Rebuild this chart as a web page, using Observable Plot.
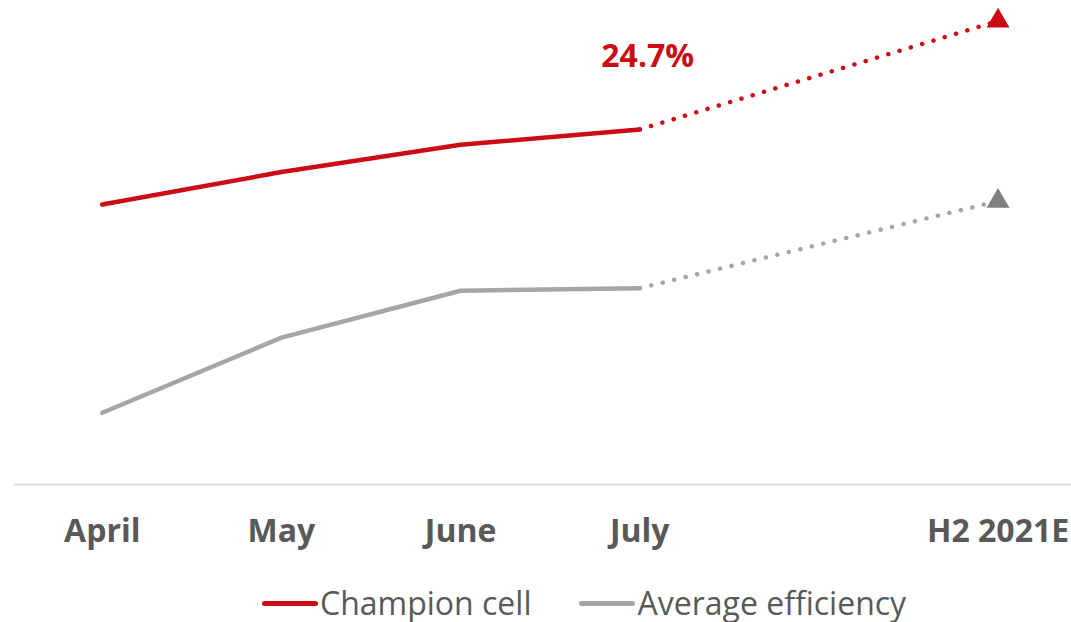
<!DOCTYPE html>
<html>
<head>
<meta charset="utf-8">
<script src="https://cdn.jsdelivr.net/npm/d3@7"></script>
<script src="https://cdn.jsdelivr.net/npm/@observablehq/plot@0.6"></script>
<style>
  html, body { margin: 0; padding: 0; background: #fff; }
  body { width: 1071px; height: 622px; overflow: hidden; font-family: "Open Sans", sans-serif; }
  #chart { position: absolute; left: 0; top: 0; }
  #legend { position: absolute; left: 262px; top: 580px; display: flex; align-items: center; font-size: 32px; line-height: 46px; color: #595959; white-space: nowrap; }
  .sw { display: inline-block; width: 56px; height: 5px; border-radius: 3px; margin-right: 2px; }
</style>
</head>
<body>
<div id="chart"></div>
<div id="legend">
  <span class="sw" style="background:#cc0c14"></span><span>Champion cell</span>
  <span class="sw" style="background:#a6a6a6; margin-left:48px"></span><span>Average efficiency</span>
</div>
<script>
const categories = ["April", "May", "June", "July", "", "H2 2021E"];
const positions = [0, 1, 2, 3, 5];
const labels = ["April", "May", "June", "July", "H2 2021E"];
const champion = [23.82, 24.20, 24.52, 24.70, 25.97];
const average = [21.38, 22.26, 22.81, 22.84, 23.86];
const highlightLabel = "24.7%";

const RED = "#cc0c14", GRAY = "#a6a6a6", GRAYMARK = "#808080";

const series = [
  {name: "Champion cell", values: champion, color: RED, mark: RED},
  {name: "Average efficiency", values: average, color: GRAY, mark: GRAYMARK}
];

const rows = [];
for (const s of series) {
  s.values.forEach((v, i) => rows.push({series: s.name, x: positions[i], label: labels[i], v, color: s.color, mark: s.mark, actual: i <= 3, forecast: i >= 3}));
}
const actualRows = rows.filter(d => d.actual);
const forecastRows = rows.filter(d => d.forecast);
const estRows = rows.filter(d => d.x === 5);
const julyChampion = rows.filter(d => d.series === "Champion cell" && d.x === 3);

const chart = Plot.plot({
  width: 1071,
  height: 562,
  marginLeft: 14,
  marginRight: 0,
  marginTop: 0,
  marginBottom: 78,
  x: {type: "linear", domain: [-0.49, 5.41]},
  y: {domain: [20.54, 26.21], axis: null},
  style: {fontFamily: "Open Sans, sans-serif", background: "transparent"},
  marks: [
    Plot.ruleY([20.54], {stroke: "#d9d9d9", strokeWidth: 2}),
    Plot.axisX({
      ticks: positions,
      tickFormat: (d) => labels[positions.indexOf(d)],
      tickSize: 0,
      tickPadding: 35,
      fontSize: 32,
      fontWeight: "bold",
      fill: "#595959",
      label: null
    }),
    Plot.line(actualRows, {x: "x", y: "v", z: "series", stroke: "color", strokeWidth: 4.5, strokeLinecap: "round", strokeLinejoin: "round"}),
    Plot.line(forecastRows, {x: "x", y: "v", z: "series", stroke: "color", strokeWidth: 4.5, strokeLinecap: "round", strokeDasharray: "0.1 11.7"}),
    Plot.dot(estRows, {x: "x", y: "v", symbol: "triangle", r: 8.5, fill: "mark", stroke: null}),
    Plot.text(julyChampion, {x: "x", y: "v", text: () => highlightLabel, dx: 8, dy: -73, fill: RED, fontSize: 32, fontWeight: "bold"})
  ]
});
document.getElementById("chart").appendChild(chart);
</script>
</body>
</html>
